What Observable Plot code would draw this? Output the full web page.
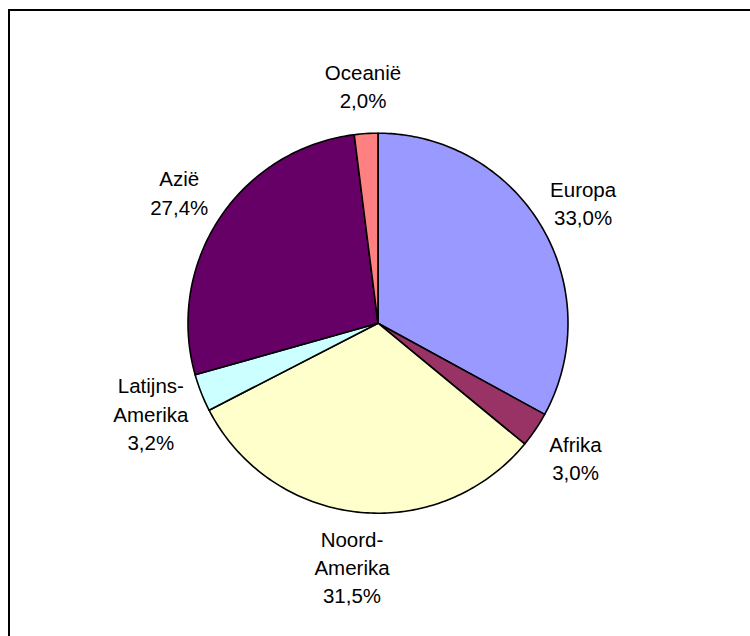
<!DOCTYPE html>
<html>
<head>
<meta charset="utf-8">
<script src="https://cdn.jsdelivr.net/npm/d3@7"></script>
<script src="https://cdn.jsdelivr.net/npm/@observablehq/plot@0.6"></script>
<style>
  html, body { margin: 0; padding: 0; background: #fff; overflow: hidden; width: 750px; height: 636px; }
  #frame { position: absolute; left: 8px; top: 9px; width: 780px; height: 660px; border: 2px solid #000; box-sizing: border-box; }
  #chart { position: absolute; left: 0; top: 0; }
</style>
</head>
<body>
<div id="frame"></div>
<div id="chart"></div>
<script>
// Data (clockwise from 12 o'clock)
const regions = ["Europa", "Afrika", "Noord-Amerika", "Latijns-Amerika", "Azië", "Oceanië"];
const shares  = [33.0, 3.0, 31.5, 3.2, 27.4, 2.0];
const sliceColors = ["#9999FF", "#993366", "#FFFFCC", "#CCFFFF", "#660066", "#FF8080"];

// Build slice polygons in unit-circle coordinates
const total = d3.sum(shares);
const points = [];
const labels = [];
let cum = 0;
regions.forEach((name, i) => {
  const a0 = cum / total * 2 * Math.PI;
  cum += shares[i];
  const a1 = cum / total * 2 * Math.PI;
  points.push({name, x: 0, y: 0});
  const n = Math.max(2, Math.ceil((a1 - a0) / (Math.PI / 180)));
  for (let k = 0; k <= n; k++) {
    const a = a0 + (a1 - a0) * k / n;
    points.push({name, x: Math.sin(a), y: Math.cos(a)});
  }
  points.push({name, x: 0, y: 0});
  const am = (a0 + a1) / 2;
  const lr = name.includes("-") ? 1.285 : 1.255;
  labels.push({
    name,
    x: lr * Math.sin(am),
    y: lr * Math.cos(am),
    text: name.replace("-", "-\n") + "\n" + shares[i].toFixed(1).replace(".", ",") + "%"
  });
});

const cx = 377.5, cy = 322.7, r = 190;

const chart = Plot.plot({
  width: 750,
  height: 636,
  margin: 0,
  style: {background: "transparent", overflow: "visible"},
  x: {type: "linear", domain: [-1, 1], range: [cx - r, cx + r], axis: null},
  y: {type: "linear", domain: [-1, 1], range: [cy + r, cy - r], axis: null},
  color: {domain: regions, range: sliceColors},
  marks: [
    Plot.line(points, {x: "x", y: "y", z: "name", fill: "name", stroke: "#000", strokeWidth: 1.6, strokeLinejoin: "round"}),
    Plot.text(labels, {
      x: "x", y: "y", text: "text",
      fontSize: 20.5,
      fontFamily: "'Liberation Sans', Arial, sans-serif",
      lineHeight: 1.38,
      fill: "#000",
      textAnchor: "middle"
    })
  ]
});
document.getElementById("chart").appendChild(chart);
</script>
</body>
</html>
